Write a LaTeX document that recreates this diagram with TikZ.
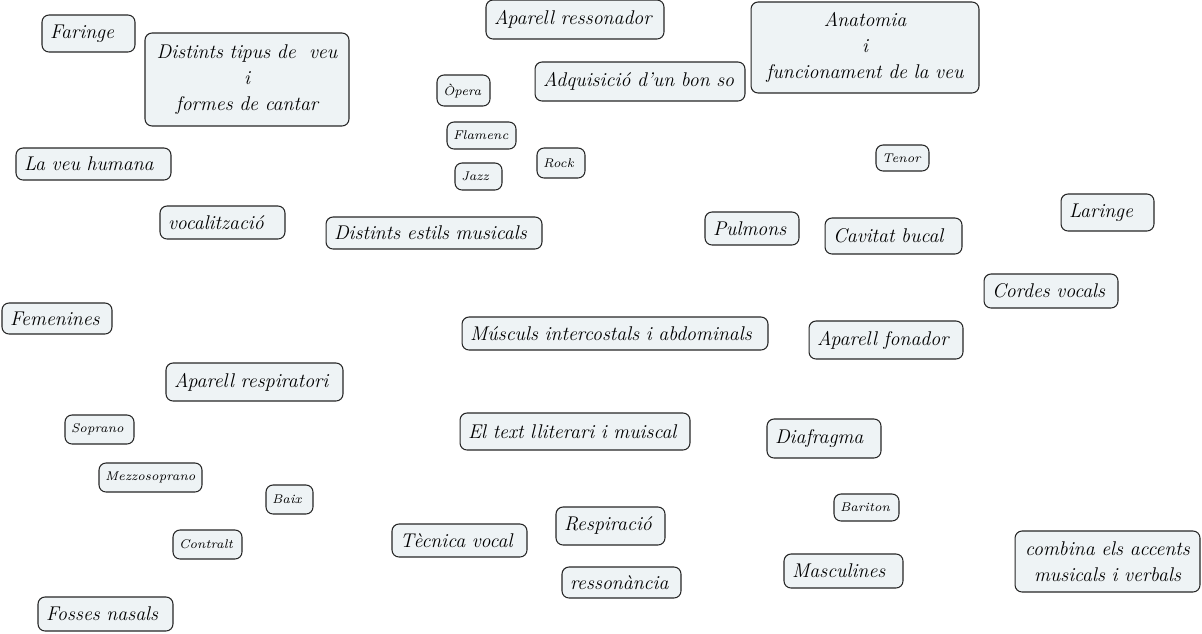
\documentclass[tikz,border=0pt]{standalone}
\usepackage{tikz}
\definecolor{boxfill}{RGB}{238,243,245}
\tikzset{
  topic/.style={draw=black!85, line width=0.6pt, rounded corners=4pt, fill=boxfill,
    inner xsep=0.16cm, inner ysep=0pt, align=left,
    font=\fontsize{11.3}{15}\selectfont\itshape},
  twig/.style={topic, inner xsep=0.12cm, font=\fontsize{7.2}{9}\selectfont\itshape}
}
\begin{document}
\begin{tikzpicture}[x=0.02cm, y=-0.02cm]
    \useasboundingbox (0,0) rectangle (1202,633);
    % large topics
    \node[topic, text width=1.54cm, minimum height=0.74cm] (faringe) at (88.5,33.5) {Faringe};
    \node[topic, align=center, text width=3.76cm, minimum height=1.86cm] (tipus) at (247,79.5) {Distints tipus de\ \ veu\\ i\\ formes de cantar};
    \node[topic, text width=3.24cm, minimum height=0.78cm] (ressonador) at (575,19.5) {Aparell ressonador};
    \node[topic, align=center, text width=4.24cm, minimum height=1.82cm] (anatomia) at (865,47.5) {Anatomia\\ i\\ funcionament de la veu};
    \node[topic, text width=3.88cm, minimum height=0.78cm] (bonso) at (640,81.5) {Adquisició d'un bon so};
    \node[topic, text width=2.78cm, minimum height=0.64cm] (humana) at (93.5,164) {La veu humana};
    \node[topic, text width=2.18cm, minimum height=0.66cm] (vocal) at (222.5,222.5) {vocalització};
    \node[topic, text width=4.00cm, minimum height=0.64cm] (estils) at (434,233) {Distints estils musicals};
    \node[topic, text width=1.56cm, minimum height=0.66cm] (pulmons) at (752,228.5) {Pulmons};
    \node[topic, text width=2.42cm, minimum height=0.72cm] (bucal) at (893.5,236) {Cavitat bucal};
    \node[topic, text width=1.54cm, minimum height=0.74cm] (laringe) at (1107.5,212.5) {Laringe};
    \node[topic, text width=2.36cm, minimum height=0.68cm] (cordes) at (1051,291) {Cordes vocals};
    \node[topic, text width=1.88cm, minimum height=0.62cm] (femenines) at (57,318.5) {Femenines};
    \node[topic, text width=5.80cm, minimum height=0.66cm] (musculs) at (615,333.5) {Músculs intercostals i abdominals};
    \node[topic, text width=2.76cm, minimum height=0.76cm] (fonador) at (886,340) {Aparell fonador};
    \node[topic, text width=3.22cm, minimum height=0.76cm] (respiratori) at (254.5,382) {Aparell respiratori};
    \node[topic, text width=4.28cm, minimum height=0.74cm] (lliterari) at (575,431.5) {El text lliterari i muiscal};
    \node[topic, text width=1.96cm, minimum height=0.78cm] (diafragma) at (824,438.5) {Diafragma};
    \node[topic, text width=2.38cm, minimum height=0.66cm] (tecnica) at (459.5,540.5) {Tècnica vocal};
    \node[topic, text width=1.86cm, minimum height=0.76cm] (respiracio) at (610.5,526) {Respiració};
    \node[topic, align=center, text width=3.38cm, minimum height=1.22cm] (combina) at (1107.5,561.5) {combina els accents\\ musicals i verbals};
    \node[topic, text width=2.06cm, minimum height=0.68cm] (masculines) at (843.5,571) {Masculines};
    \node[topic, text width=2.06cm, minimum height=0.62cm] (ressonancia) at (621.5,582.5) {ressonància};
    \node[topic, text width=2.38cm, minimum height=0.68cm] (fosses) at (105.5,614) {Fosses nasals};
    % small topics
    \node[twig, text width=0.82cm, minimum height=0.62cm] (opera) at (463.5,90.5) {Òpera};
    \node[twig, text width=1.14cm, minimum height=0.54cm] (flamenc) at (481.5,135.5) {Flamenc};
    \node[twig, text width=0.72cm, minimum height=0.60cm] (rock) at (561,163) {Rock};
    \node[twig, text width=0.70cm, minimum height=0.54cm] (jazz) at (478.5,176.5) {Jazz};
    \node[twig, text width=0.82cm, minimum height=0.52cm] (tenor) at (902.5,158) {Tenor};
    \node[twig, text width=1.14cm, minimum height=0.58cm] (soprano) at (99.5,429.5) {Soprano};
    \node[twig, text width=1.82cm, minimum height=0.58cm] (mezzo) at (150.5,477.5) {Mezzosoprano};
    \node[twig, text width=0.70cm, minimum height=0.58cm] (baix) at (289.5,499.5) {Baix};
    \node[twig, text width=1.06cm, minimum height=0.54cm] (bariton) at (866.5,507.5) {Bariton};
    \node[twig, text width=1.14cm, minimum height=0.58cm] (contralt) at (207.5,544.5) {Contralt};
  \end{tikzpicture}
\end{document}
